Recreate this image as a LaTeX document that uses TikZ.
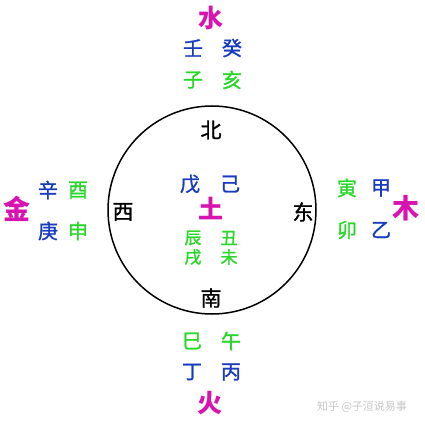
\documentclass[tikz,border=0pt]{standalone}
\usepackage{fontspec}
\setmainfont{Noto Sans CJK SC}
\newfontfamily\medcjk[FakeBold=1.2]{Noto Sans CJK SC}
\definecolor{mag}{RGB}{215,20,175}
\definecolor{blu}{RGB}{25,60,190}
\definecolor{grn}{RGB}{40,215,40}
\begin{document}
\begin{tikzpicture}[x=1pt,y=-1pt,
  el/.style={text=mag,font=\bfseries\fontsize{25}{25}\selectfont,inner sep=0pt},
  stb/.style={text=blu,font=\medcjk\fontsize{20}{20}\selectfont,inner sep=0pt},
  stg/.style={text=grn,font=\medcjk\fontsize{20}{20}\selectfont,inner sep=0pt},
  dir/.style={text=black,font=\medcjk\fontsize{21}{21}\selectfont,inner sep=0pt},
  smg/.style={text=grn,font=\medcjk\fontsize{17}{17}\selectfont,inner sep=0pt},
  ring/.style={draw=black,line width=1.5pt,circle}]
\useasboundingbox (0,0) rectangle (425,425);
\fill[white] (0,0) rectangle (425,425);
\node[ring,minimum size=208pt,inner sep=0pt] (c) at (212,210) {};
% north
\node[el] (shui) at (211,18) {水};
\node[stb] (ren) at (193,48) {壬};
\node[stb] (gui) at (232,48) {癸};
\node[stg] (zi) at (193,80) {子};
\node[stg] (hai) at (232,80) {亥};
\node[dir] (bei) at (211,130) {北};
% centre
\node[stb] (wu) at (190,184) {戊};
\node[stb] (ji) at (230,184) {己};
\node[el] (tu) at (211,208) {土};
\node[smg] (chen) at (193,238) {辰};
\node[smg] (chou) at (229,238) {丑};
\node[smg] (xu) at (193,257) {戌};
\node[smg] (wei) at (229,257) {未};
% west / east
\node[dir] (xi) at (123,212) {西};
\node[dir] (dong) at (303,212) {东};
\node[el,font=\bfseries\fontsize{27}{27}\selectfont] (jin) at (17,209) {金};
\node[stb] (xin) at (48,190) {辛};
\node[stg] (you) at (78,190) {酉};
\node[stb] (geng) at (48,231) {庚};
\node[stg] (shen) at (78,231) {申};
\node[el,font=\bfseries\fontsize{27}{27}\selectfont] (mu) at (406,208) {木};
\node[stg] (yin) at (347,188) {寅};
\node[stb] (jia) at (381,188) {甲};
\node[stg] (mao) at (347,230) {卯};
\node[stb] (yi) at (381,230) {乙};
% south
\node[dir] (nan) at (211,298) {南};
\node[stg] (si) at (192,341) {巳};
\node[stg] (wu2) at (231,341) {午};
\node[stb] (ding) at (192,372) {丁};
\node[stb] (bing) at (231,372) {丙};
\node[el] (huo) at (210,403) {火};
% watermark
\node[text=black!22,font=\fontsize{11}{11}\selectfont,inner sep=0pt] (wm) at (362,407) {知乎 @子洹说易事};
\end{tikzpicture}
\end{document}
